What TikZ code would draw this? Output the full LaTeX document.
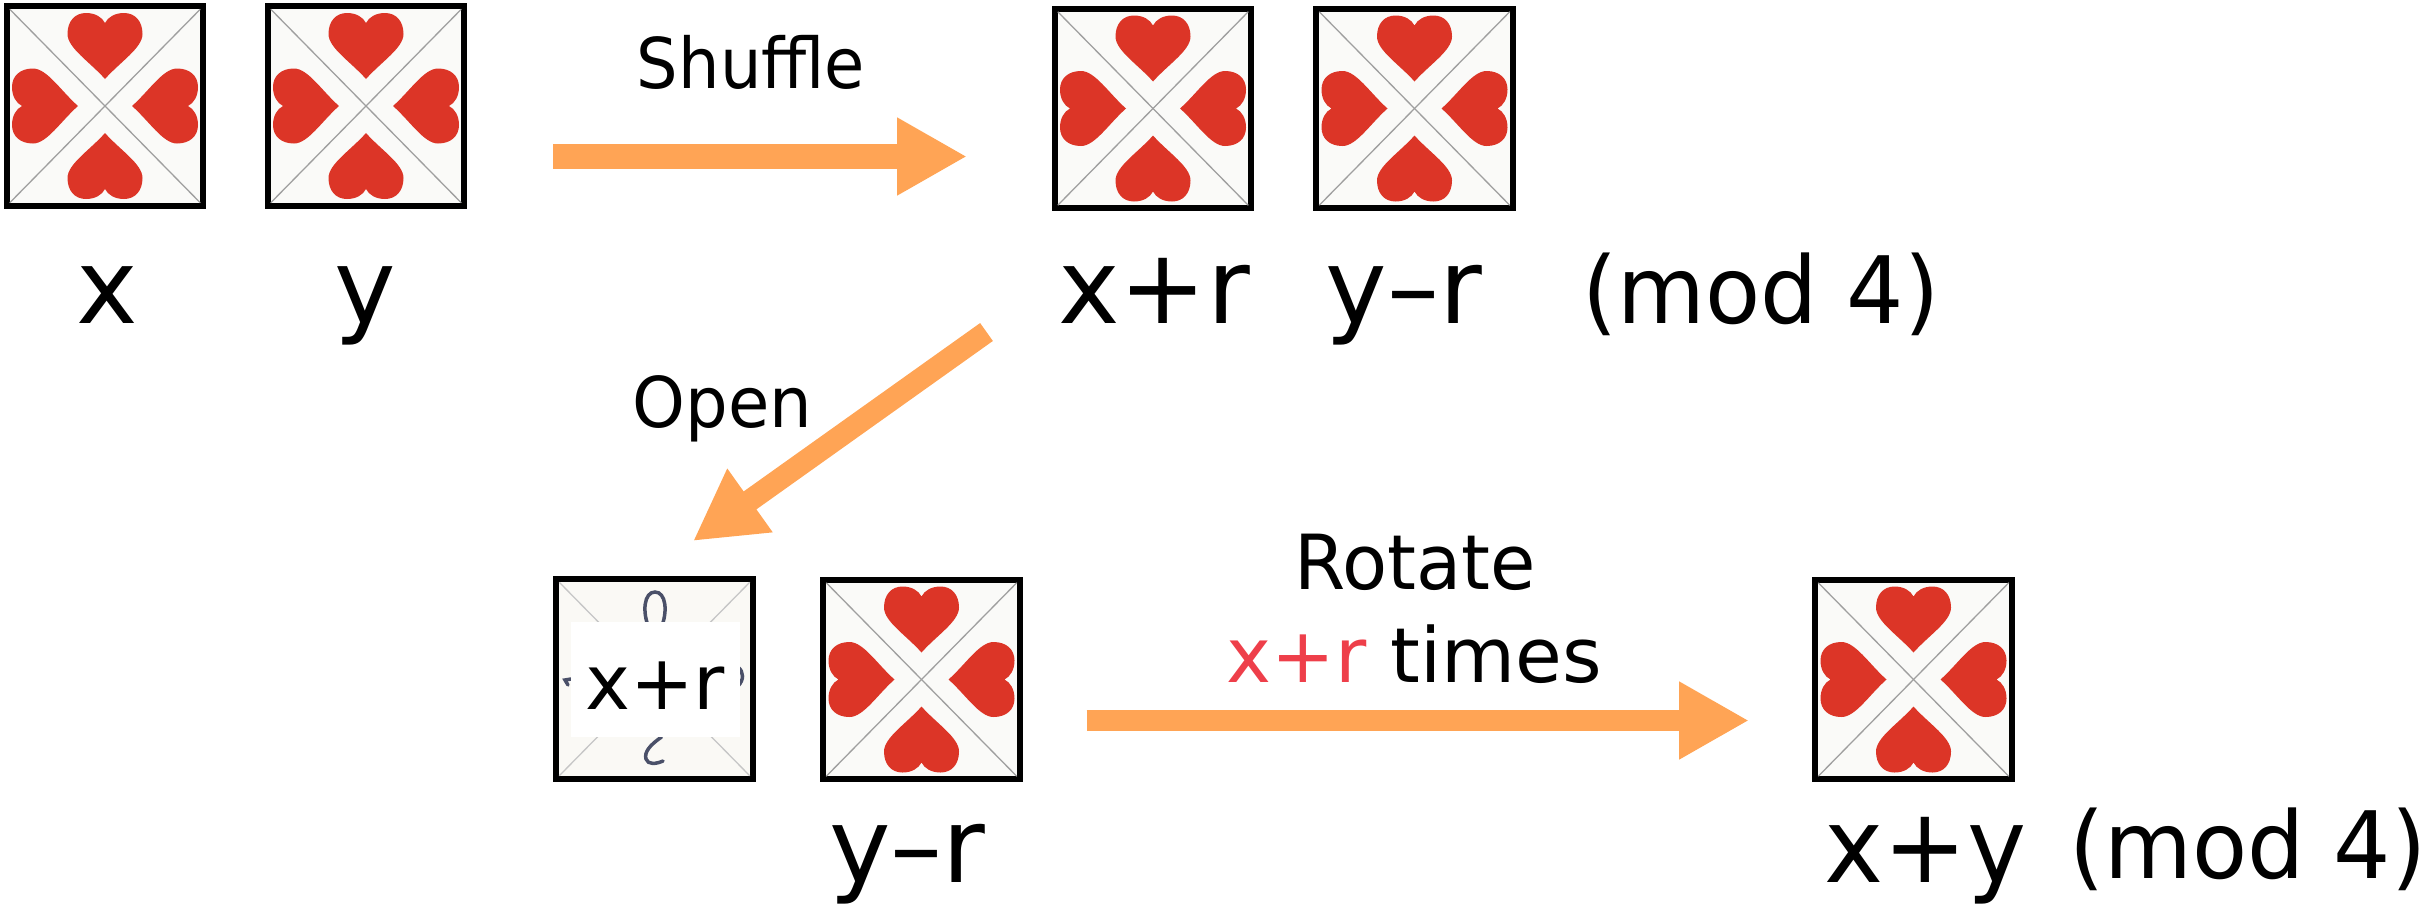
\documentclass[tikz,border=0pt]{standalone}
\usepackage{fontspec}
\setmainfont{DejaVu Sans}
\usetikzlibrary{arrows.meta}
\definecolor{heartred}{HTML}{DC3527}
\definecolor{arroworange}{HTML}{FFA455}
\definecolor{labelred}{HTML}{EE3F4A}
\definecolor{inkblue}{HTML}{4A5068}
\definecolor{cardpaper}{HTML}{FAFAF8}
\definecolor{openpaper}{HTML}{FAF9F5}
\tikzset{
  x=1pt,y=-1pt,
  cardbox/.style={draw=black,line width=6pt,fill=#1,minimum width=196.5pt,minimum height=199.5pt,inner sep=0pt,outer sep=0pt},
  cardbox/.default=cardpaper,
  diagline/.style={draw=gray!75,line width=1.3pt},
  heartfill/.style={fill=heartred},
  flowarrow/.style={draw=arroworange,line width=#1,-{Triangle[length=70pt,width=73pt]}},
  biglabel/.style={font=\fontsize{104}{104}\selectfont,inner sep=0pt,anchor=base},
  modlabel/.style={font=\fontsize{93}{93}\selectfont,inner sep=0pt,anchor=base},
  smalllabel/.style={font=\fontsize{76}{76}\selectfont,inner sep=0pt,anchor=base},
  steplabel/.style={font=\fontsize{70}{70}\selectfont,inner sep=0pt,anchor=base},
  inkstroke/.style={draw=inkblue,line width=3.5pt,line cap=round},
}
\newcommand{\oneheart}[2]{%
  \begin{scope}[shift={(#1.center)},rotate=#2]
    \fill[heartfill] (0,-27) .. controls (-15,-44) and (-37.5,-58) .. (-37.5,-72)
      .. controls (-37.5,-85) and (-30,-93) .. (-19,-93)
      .. controls (-10,-93) and (-3,-89) .. (0,-83)
      .. controls (3,-89) and (10,-93) .. (19,-93)
      .. controls (30,-93) and (37.5,-85) .. (37.5,-72)
      .. controls (37.5,-58) and (15,-44) .. (0,-27) -- cycle;
  \end{scope}}
\newcommand{\heartcard}[3]{%
  \node[cardbox] (#1) at (#2,#3) {};
  \draw[diagline] ([shift={(3,3)}]#1.north west) -- ([shift={(-3,-3)}]#1.south east);
  \draw[diagline] ([shift={(-3,3)}]#1.north east) -- ([shift={(3,-3)}]#1.south west);
  \oneheart{#1}{0}\oneheart{#1}{90}\oneheart{#1}{180}\oneheart{#1}{270}}
\begin{document}
\begin{tikzpicture}
\useasboundingbox (0,0) rectangle (2424,906);
% cards
\heartcard{cardx}{105}{106}
\heartcard{cardy}{366}{106}
\heartcard{cardxr}{1153}{108.5}
\heartcard{cardyr}{1414.5}{108.5}
\heartcard{cardyrb}{921.5}{679.5}
\heartcard{cardsum}{1913.5}{679.5}
% opened card
\node[cardbox=openpaper] (cardopen) at (654.5,679) {};
\draw[draw=gray!45,line width=1.3pt] ([shift={(3,3)}]cardopen.north west) -- ([shift={(-3,-3)}]cardopen.south east);
\draw[draw=gray!45,line width=1.3pt] ([shift={(-3,3)}]cardopen.north east) -- ([shift={(3,-3)}]cardopen.south west);
\draw[inkstroke] (649,628) .. controls (642,612) and (644,592) .. (655,592) .. controls (666,592) and (668,612) .. (661,628);
\draw[inkstroke] (661.5,737) .. controls (650,745) and (644,752) .. (646,759) .. controls (648,765) and (656,764) .. (663,761);
\draw[inkstroke] (571,679) -- (565,680) -- (568,685);
\draw[inkstroke] (738,667) .. controls (744,672) and (744,680) .. (738,686);
\node[fill=white,minimum width=169pt,minimum height=115pt,inner sep=0pt] (openpatch) at (655.5,679.5) {};
\node[smalllabel] (openlabel) at (655,709) {x+r};
% arrows
\coordinate (a1s) at (553,156.5);
\coordinate (a1e) at (967,156.5);
\coordinate (a2s) at (986.5,332);
\coordinate (a2e) at (693,541);
\coordinate (a3s) at (1086.5,720.5);
\coordinate (a3e) at (1749,720.5);
\draw[flowarrow=25pt] (a1s) -- (a1e);
\draw[flowarrow=22pt] (a2s) -- (a2e);
\draw[flowarrow=21pt] (a3s) -- (a3e);
% labels
\node[biglabel] (lx) at (107,323) {x};
\node[biglabel] (ly) at (365,323) {y};
\node[biglabel] (lxr) at (1154,323) {x+r};
\node[biglabel] (lyr) at (1404,323) {y–r};
\node[modlabel,xscale=.97,transform shape] (lmoda) at (1761,323) {(mod 4)};
\node[steplabel,xscale=.935,transform shape] (lshuffle) at (751,88) {Shuffle};
\node[steplabel,xscale=.96,transform shape] (lopen) at (722.5,427) {Open};
\node[smalllabel,xscale=.97,transform shape] (lrotate) at (1415,589) {Rotate};
\node[smalllabel] (ltimes) at (1414,682) {\textcolor{labelred}{x+r} times};
\node[biglabel] (lyrb) at (907.5,882) {y–r};
\node[biglabel,xscale=.96,transform shape] (lsum) at (1925.5,882) {x+y};
\node[modlabel,xscale=.97,transform shape] (lmodb) at (2248,878) {(mod 4)};
\end{tikzpicture}
\end{document}
